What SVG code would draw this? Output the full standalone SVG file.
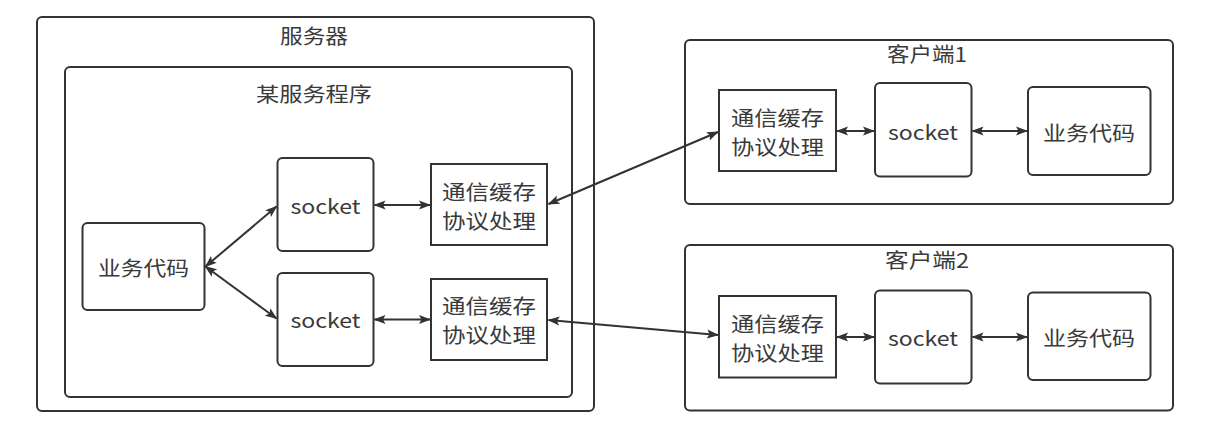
<svg xmlns="http://www.w3.org/2000/svg" width="1224" height="427" viewBox="0 0 1224 427">
<style>
.box{fill:#fff;stroke:#333;stroke-width:2}
.t{font-family:"Noto Sans CJK SC","Noto Sans",sans-serif;font-size:20px;fill:#3a3a3a;text-anchor:middle;dominant-baseline:central}
.c{fill:none;stroke:#333;stroke-width:2;marker-start:url(#ah);marker-end:url(#ah)}
</style>
<defs>
<marker id="ah" viewBox="0 0 12 10" refX="11" refY="5" markerWidth="12" markerHeight="10" markerUnits="userSpaceOnUse" orient="auto-start-reverse">
<path d="M0,0.5 L12,5 L0,9.5 L2.5,5 z" fill="#333"/>
</marker>
</defs>
<rect width="1224" height="427" fill="#fff"/>
<g id="server">
<rect class="box" x="37" y="17" width="557" height="394" rx="5"/>
<text class="t" x="314" y="35" textLength="68" lengthAdjust="spacingAndGlyphs">服务器</text>
</g>
<g id="program">
<rect class="box" x="65" y="67" width="507" height="330" rx="5"/>
<text class="t" x="314" y="93" textLength="116" lengthAdjust="spacingAndGlyphs">某服务程序</text>
</g>
<g id="s-biz">
<rect class="box" x="82.5" y="223" width="122" height="87" rx="5"/>
<text class="t" x="143.5" y="267" textLength="91" lengthAdjust="spacingAndGlyphs">业务代码</text>
</g>
<g id="s-sock1">
<rect class="box" x="277.5" y="158" width="96" height="93" rx="5"/>
<text class="t" x="325.5" y="205" textLength="70" lengthAdjust="spacingAndGlyphs">socket</text>
</g>
<g id="s-sock2">
<rect class="box" x="277.5" y="273" width="96" height="93" rx="5"/>
<text class="t" x="325.5" y="319" textLength="70" lengthAdjust="spacingAndGlyphs">socket</text>
</g>
<g id="s-buf1">
<rect class="box" x="431" y="164" width="116" height="81"/>
<text class="t" x="489" y="191" textLength="94" lengthAdjust="spacingAndGlyphs">通信缓存</text>
<text class="t" x="489" y="220" textLength="94" lengthAdjust="spacingAndGlyphs">协议处理</text>
</g>
<g id="s-buf2">
<rect class="box" x="431" y="279" width="116" height="81"/>
<text class="t" x="489" y="305" textLength="94" lengthAdjust="spacingAndGlyphs">通信缓存</text>
<text class="t" x="489" y="334" textLength="94" lengthAdjust="spacingAndGlyphs">协议处理</text>
</g>
<g id="client1">
<rect class="box" x="685" y="40" width="488" height="164" rx="5"/>
<text class="t" x="927" y="53" textLength="80" lengthAdjust="spacingAndGlyphs">客户端1</text>
</g>
<g id="c1-buf">
<rect class="box" x="719" y="90" width="117" height="81"/>
<text class="t" x="777.5" y="117" textLength="93" lengthAdjust="spacingAndGlyphs">通信缓存</text>
<text class="t" x="777.5" y="146" textLength="93" lengthAdjust="spacingAndGlyphs">协议处理</text>
</g>
<g id="c1-sock">
<rect class="box" x="875" y="83" width="96.5" height="93.5" rx="5"/>
<text class="t" x="923" y="131" textLength="70" lengthAdjust="spacingAndGlyphs">socket</text>
</g>
<g id="c1-biz">
<rect class="box" x="1028" y="87" width="122.5" height="88" rx="5"/>
<text class="t" x="1089" y="132" textLength="92" lengthAdjust="spacingAndGlyphs">业务代码</text>
</g>
<g id="client2">
<rect class="box" x="685" y="245" width="488" height="165.5" rx="5"/>
<text class="t" x="927" y="259" textLength="84" lengthAdjust="spacingAndGlyphs">客户端2</text>
</g>
<g id="c2-buf">
<rect class="box" x="719" y="296" width="117" height="81.5"/>
<text class="t" x="777.5" y="323" textLength="93" lengthAdjust="spacingAndGlyphs">通信缓存</text>
<text class="t" x="777.5" y="352" textLength="93" lengthAdjust="spacingAndGlyphs">协议处理</text>
</g>
<g id="c2-sock">
<rect class="box" x="875" y="290.5" width="96.5" height="93" rx="5"/>
<text class="t" x="923" y="337" textLength="70" lengthAdjust="spacingAndGlyphs">socket</text>
</g>
<g id="c2-biz">
<rect class="box" x="1028" y="292.5" width="122.5" height="87.5" rx="5"/>
<text class="t" x="1089" y="337" textLength="92" lengthAdjust="spacingAndGlyphs">业务代码</text>
</g>
<g id="connectors">
<path class="c" d="M205.5,266.5 L276.5,206.5"/>
<path class="c" d="M205.5,266.5 L276.5,318.5"/>
<path class="c" d="M374.5,205 L430,205"/>
<path class="c" d="M374.5,319.5 L430,319.5"/>
<path class="c" d="M548.5,204 L718,132"/>
<path class="c" d="M548.5,320 L718,335"/>
<path class="c" d="M837,131 L874,131"/>
<path class="c" d="M972.5,131 L1027,131"/>
<path class="c" d="M837,337 L874,337"/>
<path class="c" d="M972.5,337 L1027,337"/>
</g>
</svg>
